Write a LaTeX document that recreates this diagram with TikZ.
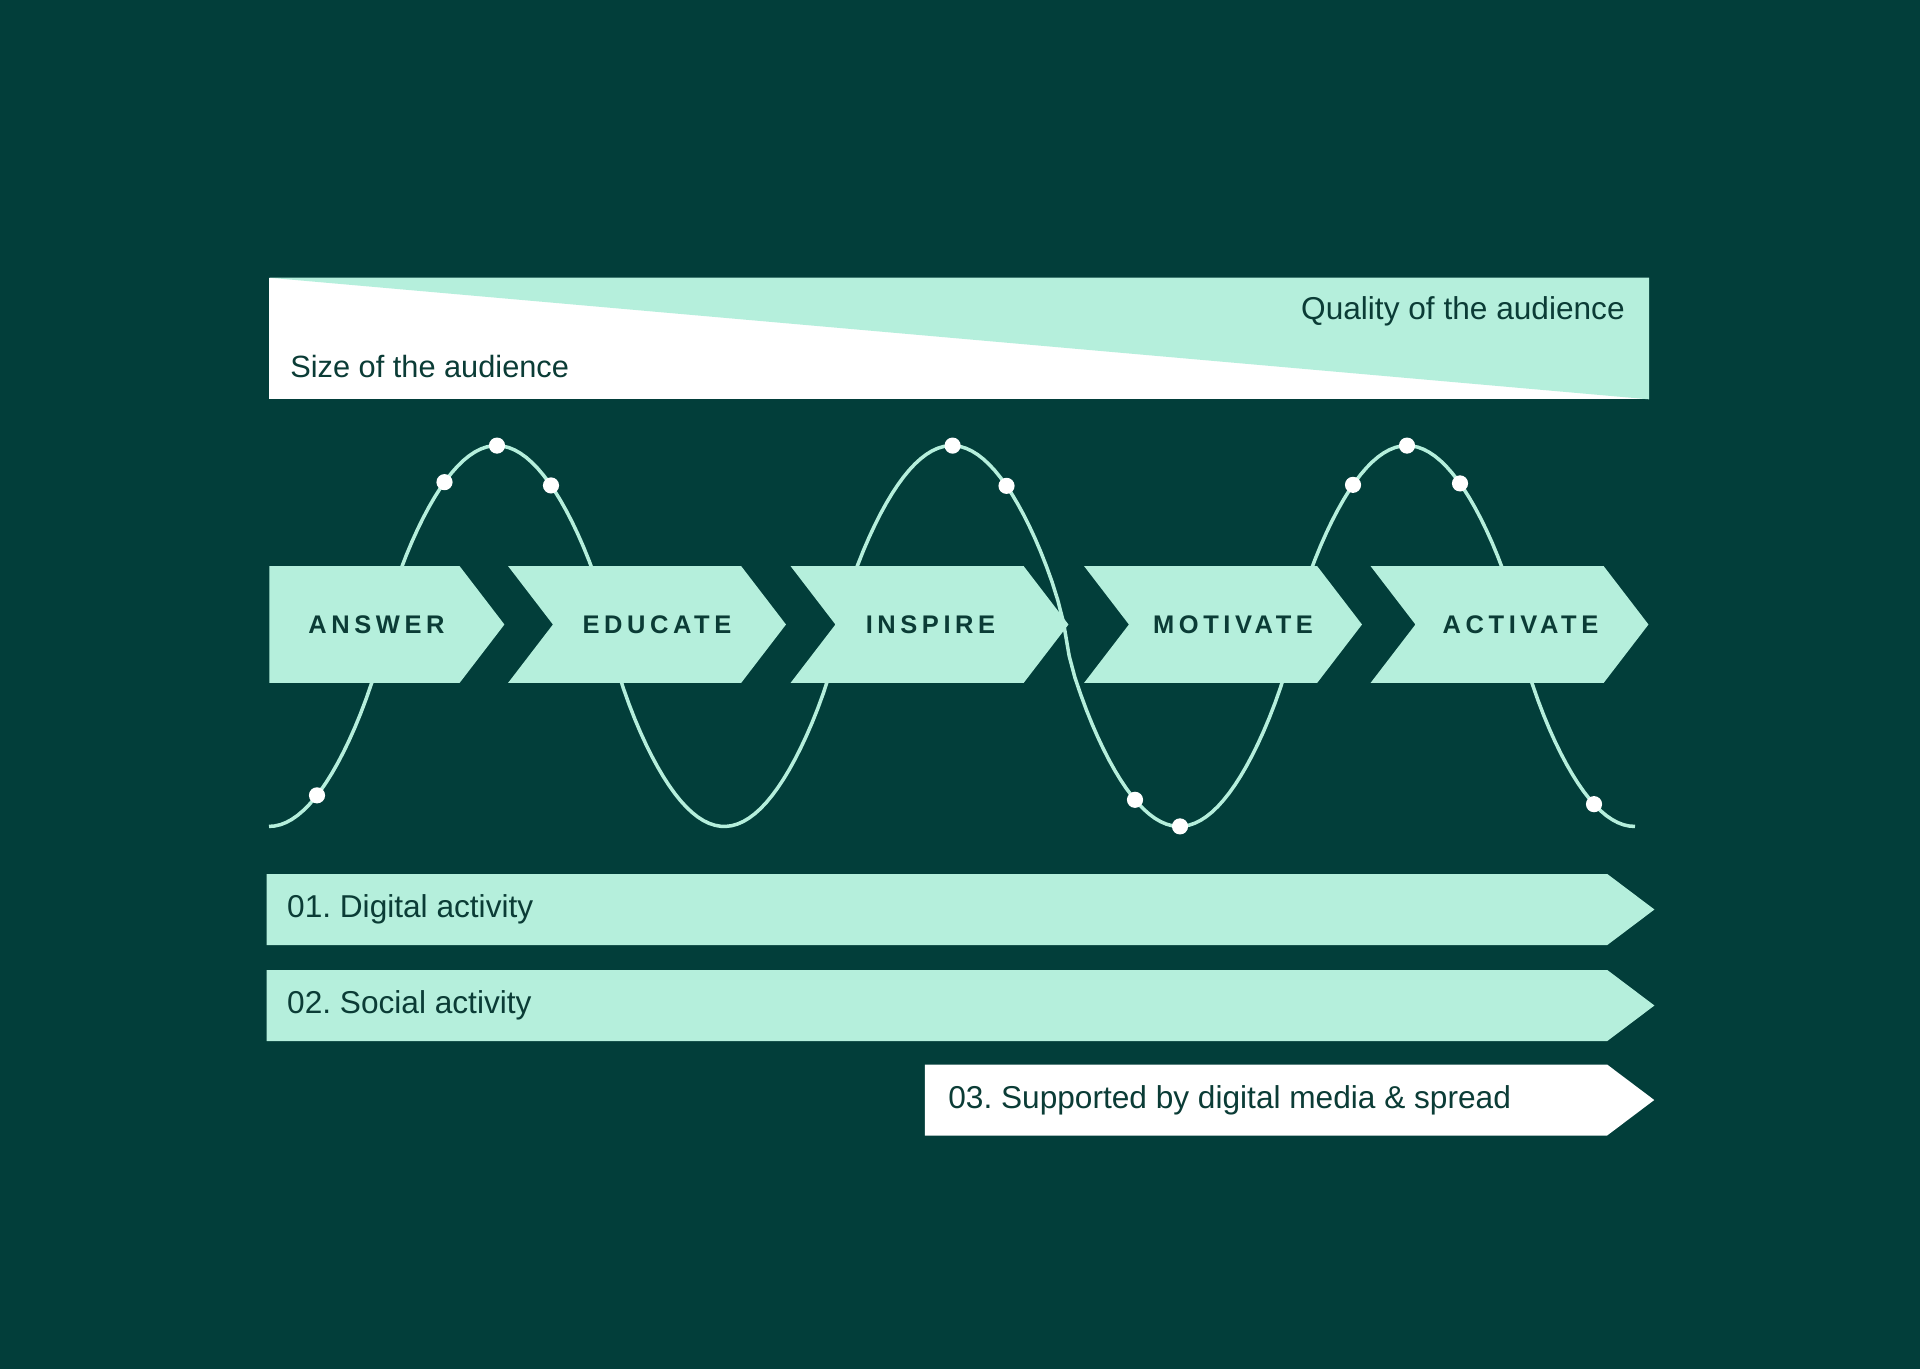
\documentclass[tikz,border=0pt]{standalone}
\usepackage{fontspec}
\setmainfont{Liberation Sans}
\newfontfamily\stagefont{Liberation Sans}[LetterSpace=18]
\usetikzlibrary{positioning,shapes.symbols,backgrounds}
\definecolor{forest}{HTML}{023E3A}
\definecolor{mint}{HTML}{B5EFDC}
\definecolor{ink}{HTML}{0B3C36}
\frenchspacing

\begin{document}
\begin{tikzpicture}[
  x=0.02cm, y=-0.02cm,
  background rectangle/.style={fill=forest},
  show background rectangle,
  inner frame sep=0pt,
  declare function={
    wph(\x)=(\x-269)*0.79086;
    wy(\x)=636+190.4*sign(cos(wph(\x)))*pow(abs(cos(wph(\x)))+0.0001,0.75);
  },
  stage/.style={
    signal, signal to=east, signal from=west,
    signal pointer angle=105,
    fill=mint, inner sep=0pt,
    minimum height=2.34cm, minimum width=5.56cm,
    font=\stagefont\bfseries\fontsize{14.5}{17}\selectfont,
    text=ink
  },
  firstStage/.style={
    stage, signal from=nowhere,
    minimum width=4.7cm
  },
  labelShift/.style={execute at begin node={\kern#1}},
  track/.style={
    signal, signal to=east,
    signal pointer angle=74,
    fill=mint, inner sep=0pt,
    minimum height=1.42cm
  },
  trackText/.style={
    font=\fontsize{18}{22}\selectfont,
    text=ink, inner sep=0pt
  },
  wave/.style={draw=mint, line width=2pt},
  dot/.style={fill=white}
]

\useasboundingbox (0,0) rectangle (1920,1369);

% Audience scale at the top
\node[fill=white, inner sep=0pt, minimum width=27.6cm, minimum height=2.42cm] (scale) at (959,338.5) {};
\fill[mint] (scale.north west) -- (scale.north east) -- (scale.south east) -- cycle;
\node[trackText, anchor=east] (quality) at (1625,311) {Quality of the audience};
\node[trackText, anchor=west, font=\fontsize{17.5}{21}\selectfont] (size) at (290,367) {Size of the audience};

% Wave behind the stages
\draw[wave] plot[domain=269:1635, samples=240] (\x,{wy(\x)});
\foreach \x in {317,444.5,497,551,952.6,1006.5,1135,1180,1353,1407,1460,1594}
  \fill[dot] (\x,{wy(\x)}) circle[radius=4.6pt];

% Stages
\node[firstStage, labelShift=0.48cm] (answer) at (364.5,624.5) {ANSWER};
\node[stage, labelShift=0.4cm] (educate) at (647,624.5) {EDUCATE};
\node[stage, labelShift=0.04cm] (inspire) at (929.5,624.5) {INSPIRE};
\node[stage, labelShift=0.4cm] (motivate) at (1223,624.5) {MOTIVATE};
\node[stage, labelShift=0.44cm] (activate) at (1509.5,624.5) {ACTIVATE};

% Activity tracks
\node[track, minimum width=27.76cm] (digital) at (937,909.5) {};
\node[trackText, anchor=west, right=0.41cm of digital.west] (digitalText) {01. Digital activity};

\node[track, minimum width=27.76cm] (social) at (937,1005.5) {};
\node[trackText, anchor=west, right=0.41cm of social.west] (socialText) {02. Social activity};

\node[track, fill=white, minimum width=14.59cm] (media) at (1266,1100) {};
\node[trackText, anchor=west, right=0.47cm of media.west] (mediaText) {03. Supported by digital media \& spread};

\end{tikzpicture}
\end{document}
